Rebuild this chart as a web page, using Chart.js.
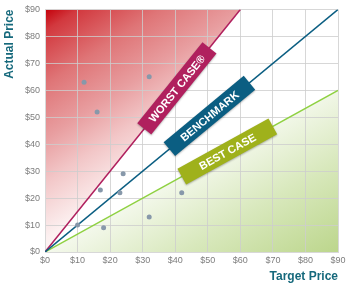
<!DOCTYPE html>
<html>
<head>
<meta charset="utf-8">
<script src="https://cdn.jsdelivr.net/npm/chart.js@4.4.1/dist/chart.umd.min.js"></script>
<style>
  body { margin: 0; background: #fff; }
  #wrap { width: 356px; height: 283px; }
</style>
</head>
<body>
<div id="wrap"><canvas id="grafico"></canvas></div>
<script>
// data
const tickValues = [0, 10, 20, 30, 40, 50, 60, 70, 80, 90];
const targetPrices = [12, 16, 32, 17, 24, 23, 18, 32, 10, 42];
const actualPrices = [63, 52, 65, 23, 29, 22, 9, 13, 10, 22];
const worstLine = [{ x: 0, y: 0 }, { x: 60, y: 90 }];
const benchLine = [{ x: 0, y: 0 }, { x: 90, y: 90 }];
const bestLine = [{ x: 0, y: 0 }, { x: 90, y: 60 }];
const banners = [
  { text: "WORST CASE®", x: 40.5, line: worstLine, color: "#b0205e" },
  { text: "BENCHMARK", x: 50.5, line: benchLine, color: "#0b5e82" },
  { text: "BEST CASE", x: 56, line: bestLine, color: "#9fb11b" },
];

const points = targetPrices.map((t, i) => ({ x: t, y: actualPrices[i] }));

function redFill(context) {
  const chart = context.chart;
  const a = chart.chartArea;
  if (!a) return "rgba(220,80,80,0.5)";
  const g = chart.ctx.createLinearGradient(a.left, a.top, a.left + a.width * 0.42, a.top + a.height * 0.78);
  g.addColorStop(0, "#c4000a");
  g.addColorStop(0.08, "#d2383e");
  g.addColorStop(0.28, "#df7577");
  g.addColorStop(0.48, "#e89ea0");
  g.addColorStop(0.64, "#f2c6c7");
  g.addColorStop(0.85, "#fcf0f0");
  g.addColorStop(1, "#ffffff");
  return g;
}

function greenFill(context) {
  const chart = context.chart;
  const a = chart.chartArea;
  if (!a) return "rgba(180,210,130,0.5)";
  const g = chart.ctx.createLinearGradient(a.right, a.bottom, a.right - a.width * 0.3, a.bottom - a.height * 0.62);
  g.addColorStop(0, "#bcd68c");
  g.addColorStop(0.45, "#d8e8bc");
  g.addColorStop(1, "#ffffff");
  return g;
}

const bannerPlugin = {
  id: "banners",
  afterDraw(chart) {
    const ctx = chart.ctx;
    const xs = chart.scales.x;
    const ys = chart.scales.y;
    banners.forEach((b) => {
      const p0 = b.line[0];
      const p1 = b.line[1];
      const slope = (p1.y - p0.y) / (p1.x - p0.x);
      const px = xs.getPixelForValue(b.x);
      const py = ys.getPixelForValue(b.x * slope);
      const ex = xs.getPixelForValue(p1.x) - xs.getPixelForValue(p0.x);
      const ey = ys.getPixelForValue(p1.y) - ys.getPixelForValue(p0.y);
      const ang = Math.atan2(ey, ex);
      ctx.save();
      ctx.translate(px, py);
      ctx.rotate(ang);
      ctx.shadowColor = "rgba(0,0,0,0.3)";
      ctx.shadowBlur = 2;
      ctx.shadowOffsetY = 1;
      ctx.fillStyle = b.color;
      ctx.fillRect(-52, -9, 104, 18);
      ctx.shadowColor = "transparent";
      ctx.fillStyle = "#fff";
      ctx.font = "bold 11px 'Liberation Sans', Arial, sans-serif";
      ctx.textAlign = "center";
      ctx.textBaseline = "middle";
      ctx.fillText(b.text, 0, 1);
      ctx.restore();
    });
  },
};

const tickFont = { family: "'Liberation Sans', Arial, sans-serif", size: 9, lineHeight: 1 };
const titleFont = { family: "'Liberation Sans', Arial, sans-serif", size: 12, weight: "bold", lineHeight: 1 };

new Chart(document.getElementById("grafico").getContext("2d"), {
  type: "scatter",
  data: {
    datasets: [
      {
        data: points,
        backgroundColor: "#8798aa",
        borderWidth: 0,
        pointRadius: 2.5,
      },
      {
        type: "line",
        data: benchLine,
        borderColor: "#0b5e82",
        borderWidth: 1.5,
        pointRadius: 0,
        fill: false,
      },
      {
        type: "line",
        data: worstLine,
        borderColor: "#b0205e",
        borderWidth: 1.5,
        pointRadius: 0,
        fill: "end",
        backgroundColor: redFill,
      },
      {
        type: "line",
        data: bestLine,
        borderColor: "#8fd142",
        borderWidth: 1.5,
        pointRadius: 0,
        fill: "start",
        backgroundColor: greenFill,
      },
    ],
  },
  options: {
    responsive: true,
    maintainAspectRatio: false,
    animation: false,
    layout: { padding: { top: 4, right: 18, left: 4, bottom: 0 } },
    plugins: {
      legend: { display: false },
      tooltip: { enabled: false },
      filler: { drawTime: "beforeDraw" },
    },
    scales: {
      x: {
        type: "linear",
        min: 0,
        max: 90,
        afterBuildTicks: (s) => { s.ticks = tickValues.map((v) => ({ value: v })); },
        ticks: { font: tickFont, color: "#7d7d7d", callback: (v) => "$" + v, maxRotation: 0, padding: 4 },
        grid: { color: "rgba(205,205,205,0.8)", lineWidth: 1, tickLength: 0 },
        border: { color: "#d8d8d8" },
        title: { display: true, text: "Target Price", align: "end", color: "#16697c", font: titleFont, padding: { top: 2, bottom: 0 } },
      },
      y: {
        type: "linear",
        min: 0,
        max: 90,
        afterBuildTicks: (s) => { s.ticks = tickValues.map((v) => ({ value: v })); },
        ticks: { font: tickFont, color: "#7d7d7d", callback: (v) => "$" + v, padding: 5 },
        grid: { color: "rgba(205,205,205,0.8)", lineWidth: 1, tickLength: 0 },
        border: { color: "#d8d8d8" },
        title: { display: true, text: "Actual Price", align: "end", color: "#16697c", font: titleFont, padding: { top: 0, bottom: 4 } },
      },
    },
  },
  plugins: [bannerPlugin],
});
</script>
</body>
</html>
